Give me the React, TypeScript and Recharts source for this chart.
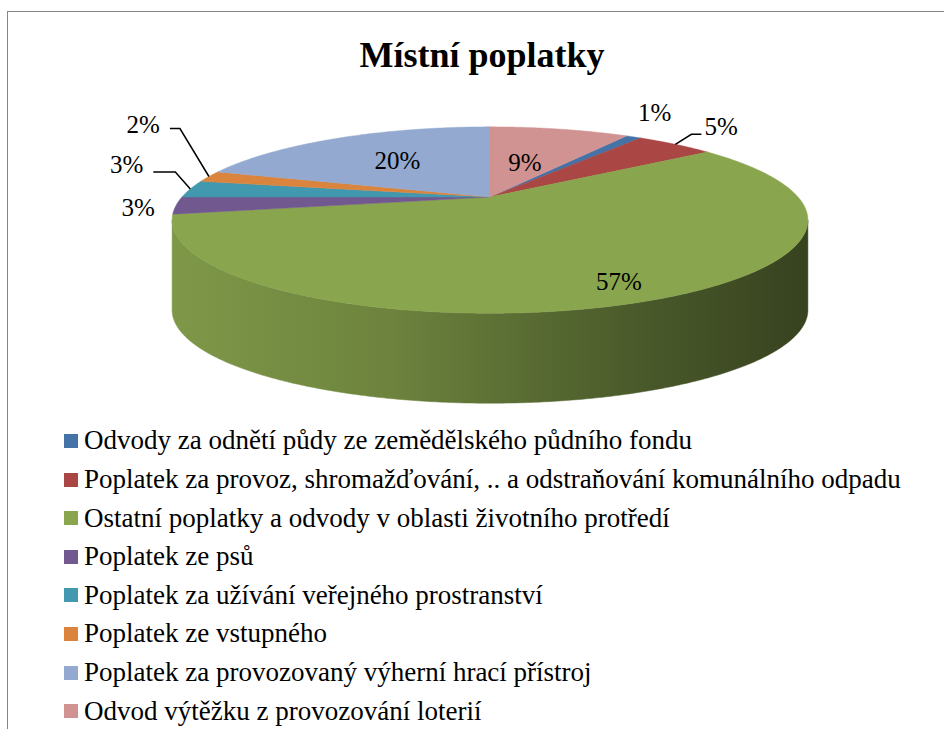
import { PieChart, Pie, Legend } from 'recharts'

const CATEGORIES = [
  'Odvody za odnětí půdy ze zemědělského půdního fondu',
  'Poplatek za provoz, shromažďování, .. a odstraňování komunálního odpadu',
  'Ostatní poplatky a odvody v oblasti životního protředí',
  'Poplatek ze psů',
  'Poplatek za užívání veřejného prostranství',
  'Poplatek ze vstupného',
  'Poplatek za provozovaný výherní hrací přístroj',
  'Odvod výtěžku z provozování loterií',
]
const SHARES = [1, 5, 57, 3, 3, 2, 20, 9]

const COLORS = ['#4572A7', '#AA4643', '#89A54E', '#71588F', '#4198AF', '#DB843D', '#93A9CF', '#D19392']
const FONT = '"Liberation Serif", "Times New Roman", serif'

const data = CATEGORIES.map((name, i) => ({ name, value: SHARES[i] }))

// ── 3D look: perspective projection of the pie disc ───────────────────────────
const VIEW = { cx: 490, cy: 197, scale: 1194.5, dist: 3.878, tilt: 16.5 }
const DEPTH_PX = 90
const COS_T = Math.cos((VIEW.tilt * Math.PI) / 180)
const SIN_T = Math.sin((VIEW.tilt * Math.PI) / 180)

// theta: degrees clockwise from the back (12 o'clock), r: 0..1
function project(theta: number, r = 1) {
  const t = (theta * Math.PI) / 180
  const X = r * Math.sin(t)
  const Z = r * Math.cos(t)
  const d = VIEW.dist + Z * COS_T
  return { x: VIEW.cx + (VIEW.scale * X) / d, y: VIEW.cy - (VIEW.scale * Z * SIN_T) / d }
}

const FRONT_FROM = (Math.acos(-COS_T / VIEW.dist) * 180) / Math.PI
const FRONT_TO = 360 - FRONT_FROM
const X_LEFT = project(FRONT_TO).x
const X_RIGHT = project(FRONT_FROM).x

// side wall gets darker towards the right
const WALL_SHADE = [
  { at: 0, k: 0.92 },
  { at: 0.33, k: 0.8 },
  { at: 0.72, k: 0.55 },
  { at: 1, k: 0.4 },
]

function shade(hex: string, k: number) {
  const n = parseInt(hex.slice(1), 16)
  const r = Math.round(((n >> 16) & 255) * k)
  const g = Math.round(((n >> 8) & 255) * k)
  const b = Math.round((n & 255) * k)
  return `rgb(${r},${g},${b})`
}

function rimPoints(a: number, b: number) {
  const steps = Math.max(2, Math.ceil((b - a) / 0.5))
  const pts = []
  for (let k = 0; k <= steps; k++) pts.push(project(a + ((b - a) * k) / steps))
  return pts
}

function SliceShape(props: any) {
  const { index, startAngle, endAngle } = props
  const a = 90 - startAngle
  const b = 90 - endAngle
  const color = COLORS[index % COLORS.length]
  const rim = rimPoints(a, b)
  const top = `M${VIEW.cx},${VIEW.cy} ` + rim.map(p => `L${p.x},${p.y}`).join(' ') + ' Z'

  const walls: string[] = []
  for (const shift of [-360, 0, 360]) {
    const fa = Math.max(a, FRONT_FROM + shift)
    const fb = Math.min(b, FRONT_TO + shift)
    if (fb > fa) {
      const up = rimPoints(fa, fb)
      const down = up.slice().reverse()
      walls.push(
        'M' + up.map(p => `${p.x},${p.y}`).join(' L') +
        ' L' + down.map(p => `${p.x},${p.y + DEPTH_PX}`).join(' L') + ' Z'
      )
    }
  }
  const gid = `wall-${index}`

  return (
    <g>
      <defs>
        <linearGradient id={gid} gradientUnits="userSpaceOnUse" x1={X_LEFT} y1={0} x2={X_RIGHT} y2={0}>
          {WALL_SHADE.map(s => (
            <stop key={s.at} offset={s.at} stopColor={shade(color, s.k)} />
          ))}
        </linearGradient>
      </defs>
      {walls.map((d, i) => (
        <path key={i} d={d} fill={`url(#${gid})`} stroke={`url(#${gid})`} strokeWidth={0.5} />
      ))}
      <path d={top} fill={color} stroke={color} strokeWidth={0.5} strokeLinejoin="round" />
    </g>
  )
}

// ── Data labels ───────────────────────────────────────────────────────────────
type LabelLayout = {
  inside?: number
  dx?: number
  dy?: number
  anchor?: 'start' | 'middle' | 'end'
  leader?: number[][]
}

const LABEL_LAYOUT: LabelLayout[] = [
  { dx: 21, dy: -24 },
  { dx: 29, dy: -18, anchor: 'start', leader: [[0, 0], [16, -10], [26, -10]] },
  { inside: 0.85 },
  { dx: -38, dy: 2 },
  { dx: -47, dy: -24, anchor: 'end', leader: [[0, 0], [-15, -17], [-37, -17]] },
  { dx: -49, dy: -52, anchor: 'end', leader: [[0, 0], [-29, -48], [-39, -48]] },
  { inside: 0.57 },
  { inside: 0.45 },
]

function SliceLabel(props: any) {
  const { index, startAngle, endAngle, percent } = props
  const mid = 90 - (startAngle + endAngle) / 2
  const layout = LABEL_LAYOUT[index] ?? { inside: 0.6 }
  const text = `${Math.round(percent * 100)}%`
  const textProps = { fontFamily: FONT, fontSize: 25, fill: '#000', dominantBaseline: 'central' as const }

  if (layout.inside != null) {
    const p = project(mid, layout.inside)
    return <text x={p.x} y={p.y} textAnchor="middle" {...textProps}>{text}</text>
  }

  const rim = project(mid)
  return (
    <g>
      {layout.leader && (
        <polyline
          points={layout.leader.map(([x, y]) => `${rim.x + x},${rim.y + y}`).join(' ')}
          fill="none"
          stroke="#000"
          strokeWidth={1.5}
        />
      )}
      <text x={rim.x + (layout.dx ?? 0)} y={rim.y + (layout.dy ?? 0)} textAnchor={layout.anchor ?? 'middle'} {...textProps}>
        {text}
      </text>
    </g>
  )
}

// ── Legend ────────────────────────────────────────────────────────────────────
function LegendList({ payload }: { payload?: Array<{ value: string }> }) {
  const seen = new Set<string>()
  const items = (payload ?? [])
    .filter(p => {
      if (seen.has(p.value)) return false
      seen.add(p.value)
      return true
    })
    .sort((a, b) => CATEGORIES.indexOf(a.value) - CATEGORIES.indexOf(b.value))
  return (
    <div style={{ fontFamily: FONT, fontSize: 27, color: '#000' }}>
      {items.map(item => (
        <div key={item.value} style={{ height: 38.6, display: 'flex', alignItems: 'center', whiteSpace: 'nowrap' }}>
          <span
            style={{
              width: 14, height: 14, marginRight: 6, display: 'inline-block', flex: 'none',
              background: COLORS[CATEGORIES.indexOf(item.value)],
            }}
          />
          {item.value}
        </div>
      ))}
    </div>
  )
}

// ── Main Component ────────────────────────────────────────────────────────────
export default function App() {
  return (
    <div style={{ position: 'absolute', left: 0, top: 0, width: 944, height: 729, overflow: 'hidden', background: '#fff' }}>
      <div
        style={{
          position: 'absolute', left: 7, top: 11, width: 980, height: 800,
          border: '1px solid #868686', boxSizing: 'border-box',
        }}
      />
      <div
        style={{
          position: 'absolute', left: 0, top: 35, width: 964, textAlign: 'center',
          fontFamily: FONT, fontWeight: 'bold', fontSize: 36, lineHeight: '40px', color: '#000',
        }}
      >
        Místní poplatky
      </div>
      <div style={{ position: 'absolute', left: 0, top: 0 }}>
        <PieChart width={944} height={729} margin={{ top: 0, right: 0, bottom: 0, left: 0 }}>
          <Pie
            data={data}
            dataKey="value"
            nameKey="name"
            cx={VIEW.cx}
            cy={VIEW.cy}
            outerRadius={60}
            startAngle={57.6}
            endAngle={-302.4}
            fill="transparent"
            stroke="none"
            label={SliceShape}
            labelLine={false}
            isAnimationActive={false}
          />
          <Pie
            data={data}
            dataKey="value"
            nameKey="name"
            cx={VIEW.cx}
            cy={VIEW.cy}
            outerRadius={60}
            startAngle={57.6}
            endAngle={-302.4}
            fill="transparent"
            stroke="none"
            legendType="none"
            label={SliceLabel}
            labelLine={false}
            isAnimationActive={false}
          />
          <Legend
            content={<LegendList />}
            verticalAlign="top"
            wrapperStyle={{ left: 64, top: 421.7, bottom: 'auto', width: 880 }}
          />
        </PieChart>
      </div>
    </div>
  )
}
